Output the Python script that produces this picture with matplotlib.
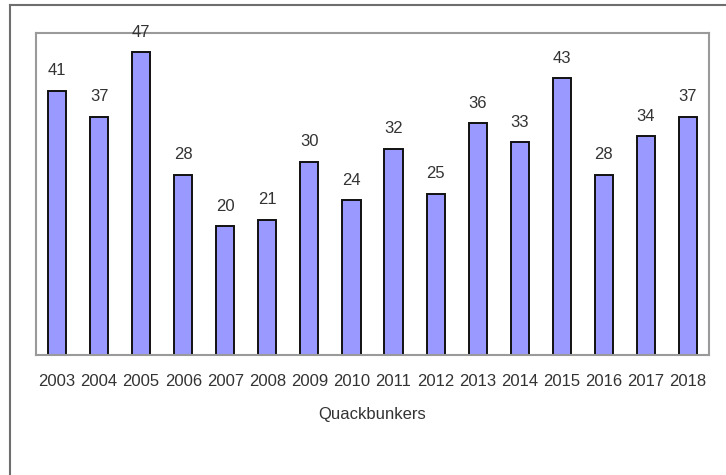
import matplotlib
matplotlib.use("Agg")
import matplotlib.pyplot as plt
from matplotlib.lines import Line2D

years = ["2003", "2004", "2005", "2006", "2007", "2008", "2009", "2010",
         "2011", "2012", "2013", "2014", "2015", "2016", "2017", "2018"]
values = [41, 37, 47, 28, 20, 21, 30, 24, 32, 25, 36, 33, 43, 28, 34, 37]
x_title = "Quackbunkers"

plt.rcParams['font.family'] = ['Liberation Sans', 'DejaVu Sans']

W, H = 726, 475
fig = plt.figure(figsize=(W / 100, H / 100), dpi=100)
fig.patch.set_facecolor("white")

# outer frame (top and left edges visible)
fig.add_artist(Line2D([10 / W, 10 / W], [0, 1 - 5 / H], transform=fig.transFigure,
                      color="#6e6e6e", lw=1.5))
fig.add_artist(Line2D([10 / W, 1], [1 - 5 / H, 1 - 5 / H], transform=fig.transFigure,
                      color="#6e6e6e", lw=1.5))

left, right, top, bottom = 36, 709, 33, 355
ax = fig.add_axes([left / W, 1 - bottom / H, (right - left) / W, (bottom - top) / H])
ax.set_facecolor("white")

xs = list(range(len(years)))
bars = ax.bar(xs, values, width=0.43, color="#9999ff", edgecolor="#111111", linewidth=1.4)
ax.set_xlim(-0.5, len(years) - 0.5)
ax.set_ylim(0, 50)

for xi, v in zip(xs, values):
    ax.annotate(str(v), (xi, v), xytext=(0, 9), textcoords="offset points",
                ha="center", va="bottom", fontsize=12, color="#333333")

ax.set_xticks(xs)
ax.set_xticklabels(years, fontsize=12, color="#333333")
ax.set_yticks([])
ax.tick_params(axis="x", length=0, pad=14)
for s in ax.spines.values():
    s.set_color("#9a9a9a")
    s.set_linewidth(1.5)

ax.set_xlabel(x_title, fontsize=12, color="#333333", labelpad=13)

fig.savefig("out.png", dpi=100, facecolor="white")
